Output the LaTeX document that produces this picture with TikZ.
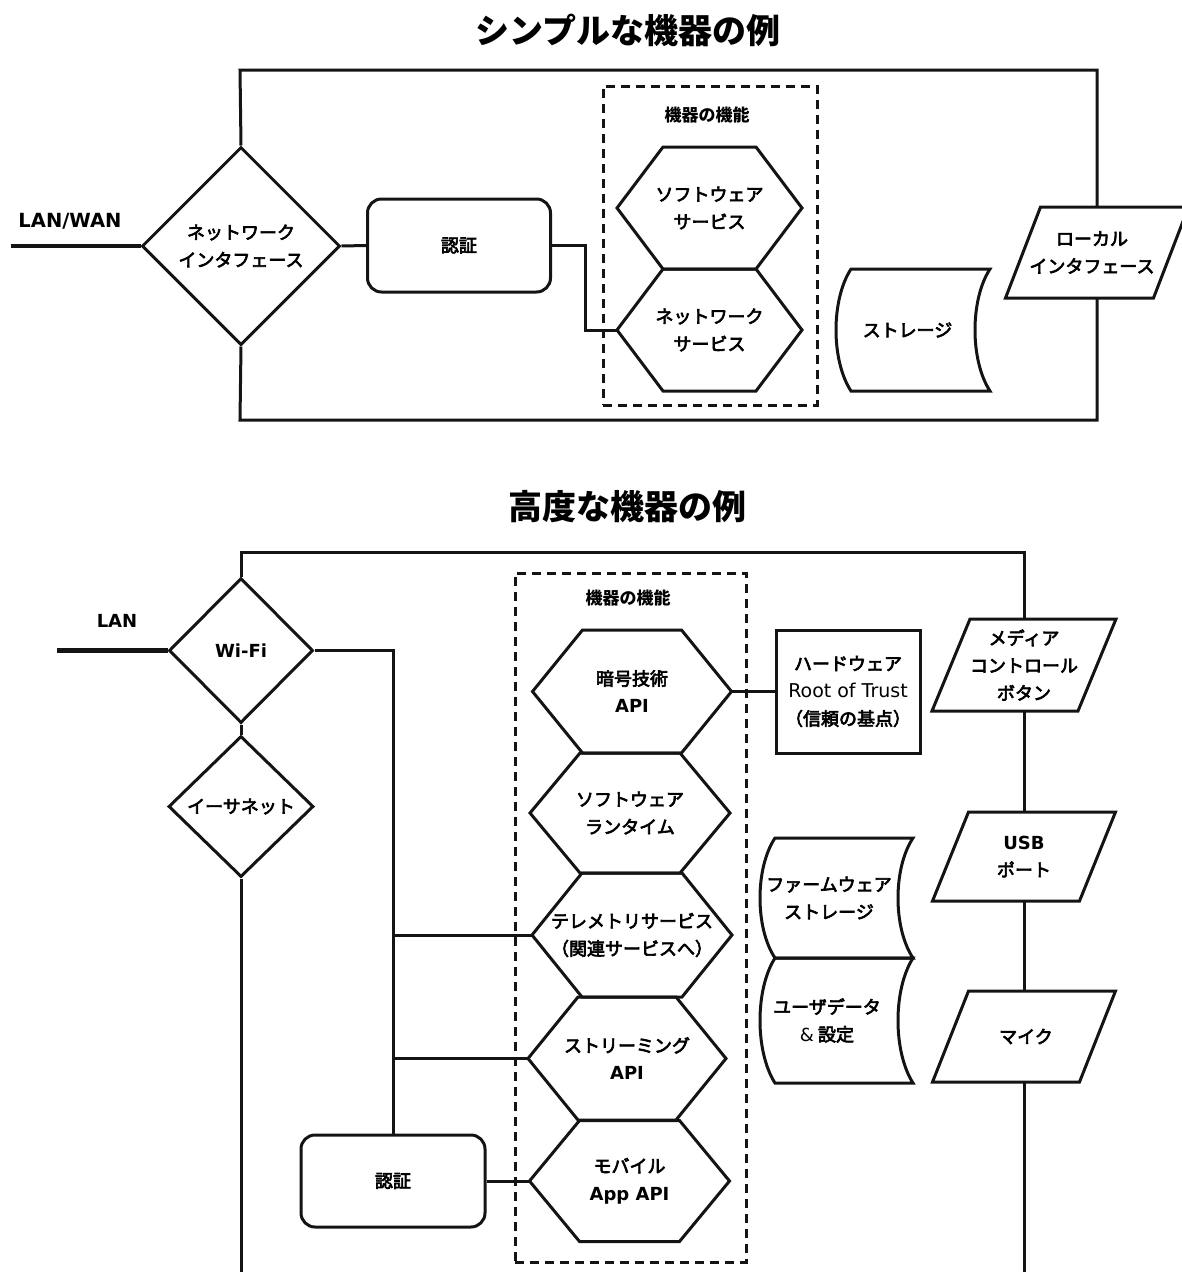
\documentclass[tikz,border=0pt]{standalone}
\usepackage{fontspec}
\setmainfont{Noto Sans CJK JP}[FakeBold=3.5]
\newfontfamily\jptitle{Noto Sans CJK JP}
\newfontfamily\latf{DejaVu Sans}
\usetikzlibrary{shapes.geometric,calc}

\tikzset{
  ln/.style={line width=3pt, draw=black!92, line join=miter},
  lanln/.style={line width=4.8pt, draw=black!92},
  txt/.style={font=\fontsize{18}{27.5}\selectfont, align=center, inner sep=0pt, text=black},
  ttl/.style={font=\jptitle\fontsize{34}{40}\selectfont\bfseries, inner sep=0pt, text=black},
  dia/.style={diamond, draw=black!92, line width=3pt, aspect=1, txt},
  rbox/.style={draw=black!92, line width=3pt, rounded corners=14pt, txt},
  sbox/.style={draw=black!92, line width=3pt, txt},
  fbox/.style={draw=black!92, line width=3pt, dash pattern=on 9pt off 6pt, inner sep=0pt},
  flbl/.style={font=\jptitle\fontsize{17}{20}\selectfont\bfseries, inner sep=0pt, text=black}
}

\newcommand\myhex[7]{%
  \coordinate (#1) at (#2,#3);
  \draw[ln,shift={(#1)}] (-#4/2,-#5/2) -- (#4/2,-#5/2) -- (#4/2+#6,0) -- (#4/2,#5/2) -- (-#4/2,#5/2) -- (-#4/2-#6,0) -- cycle;
  \path (#1) ++(-#4/2-#6,0) coordinate (#1l);
  \path (#1) ++(#4/2+#6,0) coordinate (#1r);
  \node[txt] (#1t) at (#1) {#7};
}
\newcommand\mypar[8]{%
  \coordinate (#1) at (#2,#3);
  \draw[ln,shift={(#1)}] (-#4/2+#6/2,-#5/2) -- (#4/2+#6/2,-#5/2) -- (#4/2-#6/2,#5/2) -- (-#4/2-#6/2,#5/2) -- cycle;
  \path (#1) ++(0,-#5/2) coordinate (#1n);
  \path (#1) ++(0,#5/2) coordinate (#1s);
  \node[txt] (#1t) at ([xshift=#8]#1) {#7};
}
\newcommand\mystore[8]{%
  \coordinate (#1) at (#2,#3);
  \draw[ln,shift={(#1)}] (-#4/2,-#5/2) -- (#4/2,-#5/2)
    .. controls ({#4/2-#6*4/3},{-#5/4}) and ({#4/2-#6*4/3},{#5/4}) .. (#4/2,#5/2)
    -- (-#4/2,#5/2)
    .. controls ({-#4/2-#6*4/3},{#5/4}) and ({-#4/2-#6*4/3},{-#5/4}) .. (-#4/2,-#5/2) -- cycle;
  \node[txt] (#1t) at ([xshift=#8]#1) {#7};
}

\begin{document}
\begin{tikzpicture}[x=1pt,y=-1pt]
\useasboundingbox (0,0) rectangle (1181,1272);

% ---------------- top diagram ----------------
\node[ttl] (t1) at (628,30) {シンプルな機器の例};

\node[dia, minimum width=198, minimum height=198, inner sep=0pt] (ni) at (241,246) {ネットワーク\\インタフェース};
\node[txt] (lanwan) at (70,221) {\latf\bfseries\fontsize{19.5}{22}\selectfont LAN/WAN};
\coordinate (lanwanend) at (11,246);
\draw[lanln] (lanwanend) -- (ni.west);

\node[rbox, minimum width=183, minimum height=93] (auth1) at (459,245.5) {認証};
\draw[ln] (ni.east) -- (auth1.west);

\node[fbox, minimum width=214, minimum height=319] (fb1) at (710,245.5) {};
\node[flbl] (fl1) at (707,115) {機器の機能};
\myhex{sws}{709.5}{208}{93}{122}{46}{ソフトウェア\\サービス}
\myhex{nws}{709.5}{330}{93}{122}{46}{ネットワーク\\サービス}
\draw[ln] (auth1.east) -- ++(33,0) |- (nwsl);

\mystore{stor1}{920.5}{330}{139}{122}{15}{ストレージ}{-13}
\mypar{li}{1097}{252.5}{148}{91}{35}{ローカル\\インタフェース}{-5}

\coordinate (c1) at (240,70);
\coordinate (c2) at (1097,70);
\coordinate (c3) at (1097,420);
\coordinate (c4) at (240,420);
\draw[ln] (ni.north) -- (c1) -- (c2) -- (lin);
\draw[ln] (lis) -- (c3) -- (c4) -- (ni.south);

% ---------------- bottom diagram ----------------
\node[ttl] (t2) at (627,507) {高度な機器の例};

\node[dia, minimum width=144, minimum height=145, inner sep=0pt] (wifi) at (241,650.5) {\latf\bfseries Wi-Fi};
\node[dia, minimum width=145, minimum height=141, inner sep=0pt] (eth) at (241,806.5) {イーサネット};
\node[txt] (lan) at (117,621) {\latf\bfseries LAN};
\coordinate (lanend) at (57,650.5);
\draw[lanln] (lanend) -- (wifi.west);

\coordinate (b1) at (241,552);
\coordinate (b2) at (1024,552);
\coordinate (ethend) at (241,1272);
\coordinate (micend) at (1024,1272);

\node[rbox, minimum width=184, minimum height=92] (auth2) at (393,1181) {認証};
\draw[ln] (wifi.east) -| (auth2.north);
\draw[ln] (wifi.south) -- (eth.north);
\draw[ln] (eth.south) -- (ethend);

\node[fbox, minimum width=231, minimum height=689] (fb2) at (630.5,917.5) {};
\node[flbl] (fl2) at (628,598) {機器の機能};

\myhex{cry}{632}{691.5}{99}{123}{50}{暗号技術\\{\latf\bfseries API}}
\myhex{swr}{630}{813}{100}{120}{50}{ソフトウェア\\ランタイム}
\myhex{tel}{632}{935}{100}{124}{50}{テレメトリサービス\\（関連サービスへ）}
\myhex{str}{627}{1058.5}{98}{123}{50}{ストリーミング\\{\latf\bfseries API}}
\myhex{mob}{629.5}{1181}{100}{121}{50}{モバイル\\{\latf\bfseries App API}}

\draw[ln] (tell) -- (tell -| auth2.north);
\draw[ln] (strl) -- (strl -| auth2.north);
\draw[ln] (auth2.east) -- (mobl);

\node[sbox, minimum width=144, minimum height=123] (rot) at (848,691.5) {ハードウェア\\{\latf\fontsize{19}{27.5}\selectfont Root of Trust}\\（信頼の基点）};
\draw[ln] (cryr) -- (rot.west);

\mystore{fw}{844}{898}{138}{120}{15}{ファームウェア\\ストレージ}{-15}
\mystore{ud}{844}{1020.5}{138}{125}{15}{ユーザデータ\\{\latf\&} 設定}{-17}

\mypar{media}{1024}{665}{146}{92}{38}{メディア\\コントロール\\ボタン}{0}
\mypar{usb}{1024}{856.5}{147}{89}{36}{{\latf\bfseries USB}\\ポート}{0}
\mypar{mic}{1024}{1036.5}{147}{91}{36}{マイク}{2}

\draw[ln] (wifi.north) -- (b1) -- (b2) -- (median);
\draw[ln] (medias) -- (usbn);
\draw[ln] (usbs) -- (micn);
\draw[ln] (mics) -- (micend);
\end{tikzpicture}
\end{document}
